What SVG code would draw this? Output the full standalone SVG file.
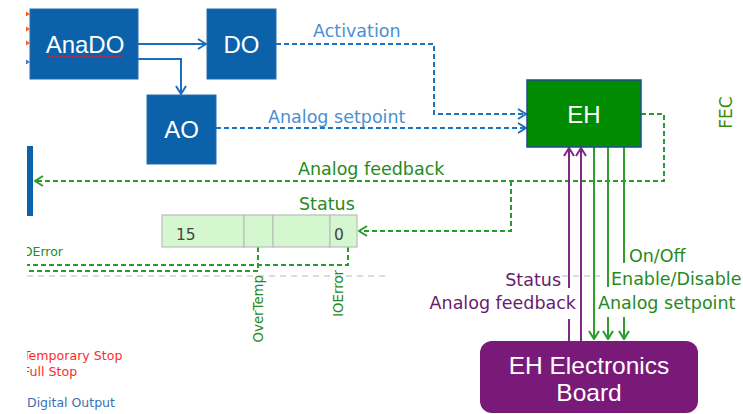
<svg xmlns="http://www.w3.org/2000/svg" width="743" height="414" viewBox="0 0 743 414">
<style>
.box{fill:#0B62AB;stroke:#2A6BA8;stroke-width:1}
.bt{font-family:"Liberation Sans",Arial,sans-serif;font-size:24px;fill:#fff;text-anchor:middle}
.lbl{font-family:"DejaVu Sans",sans-serif;font-size:17.5px}
.blueL{fill:#4A90D2}
.greenL{fill:#268A1E}
.purpL{fill:#6A1B6E}
.dashB{fill:none;stroke:#1D73C4;stroke-width:2;stroke-dasharray:5 3}
.dashG{fill:none;stroke:#2A9A2A;stroke-width:2;stroke-dasharray:5 3}
.solB{fill:none;stroke:#1B6DBE;stroke-width:2}
.solG{fill:none;stroke:#2E9E2E;stroke-width:2}
.solP{fill:none;stroke:#7D2B82;stroke-width:2}
.cell{fill:#D4F7CF;stroke:#BDBDBD;stroke-width:1.2}
.small{font-family:"DejaVu Sans",sans-serif;font-size:12.5px}
.rot{font-family:"DejaVu Sans",sans-serif;font-size:13.3px;fill:#268A1E;text-anchor:end}
</style>
<defs>
<marker id="ab" viewBox="0 0 10 12" refX="9" refY="6" markerWidth="10" markerHeight="12" markerUnits="userSpaceOnUse" orient="auto"><path d="M1,1 L9,6 L1,11" fill="none" stroke="#1B6DBE" stroke-width="2"/></marker>
<marker id="ag" viewBox="0 0 10 12" refX="9" refY="6" markerWidth="10" markerHeight="12" markerUnits="userSpaceOnUse" orient="auto"><path d="M1,1 L9,6 L1,11" fill="none" stroke="#2A9A2A" stroke-width="2"/></marker>
<marker id="ap" viewBox="0 0 10 12" refX="9" refY="6" markerWidth="10" markerHeight="12" markerUnits="userSpaceOnUse" orient="auto"><path d="M1,1 L9,6 L1,11" fill="none" stroke="#7D2B82" stroke-width="2"/></marker>
<clipPath id="clipL"><rect x="27" y="0" width="716" height="414"/></clipPath>
</defs>

<g id="connectors">
<path class="solB" d="M138,44 H206" marker-end="url(#ab)"/>
<path class="solB" d="M138,59 H181 V94" marker-end="url(#ab)"/>
<path class="dashB" d="M276,44 H434 V114 H526" marker-end="url(#ab)"/>
<path class="dashB" d="M216,128 H526" marker-end="url(#ab)"/>
<path class="dashG" d="M641,114 H664 V181 H35" marker-end="url(#ag)"/>
<path class="dashG" d="M511,181 V231 H359" marker-end="url(#ag)"/>
<path class="dashG" d="M258,247 V271 H27"/>
<path class="dashG" d="M348,247 V265 H27"/>
<path d="M27,276 H388 M562,276 H600" fill="none" stroke="#DCDCDC" stroke-width="2" stroke-dasharray="6 5"/>
<path class="solP" d="M569,288 V148" marker-end="url(#ap)"/>
<path class="solP" d="M569,319 V341"/>
<path class="solP" d="M581,341 V148" marker-end="url(#ap)"/>
<path class="solG" d="M594,147 V339" marker-end="url(#ag)"/>
<path class="solG" d="M608,147 V287"/>
<path class="solG" d="M608,317 V339" marker-end="url(#ag)"/>
<path class="solG" d="M624,147 V263"/>
<path class="solG" d="M624,317 V339" marker-end="url(#ag)"/>
<polygon points="26,11.5 30,14 26,16.5" fill="#FF5A1F"/>
<polygon points="26,26.5 30,29 26,31.5" fill="#FF5A1F"/>
<polygon points="26,40.5 30,43 26,45.5" fill="#FF5A1F"/>
<polygon points="26,59.5 30,62 26,64.5" fill="#3A7FC8"/>
</g>

<g id="AnaDO">
<rect class="box" x="30" y="9" width="108" height="70"/>
<text class="bt" x="85" y="53">AnaDO</text>
<path d="M47,57.5 l2,-1.5 2,1.5 2,-1.5 2,1.5 2,-1.5 2,1.5 2,-1.5 2,1.5 2,-1.5 2,1.5 2,-1.5 2,1.5 2,-1.5 2,1.5 2,-1.5 2,1.5 2,-1.5 2,1.5 2,-1.5 2,1.5 2,-1.5 2,1.5 2,-1.5 2,1.5 2,-1.5 2,1.5 2,-1.5 2,1.5 2,-1.5 2,1.5 2,-1.5 2,1.5 2,-1.5 2,1.5 2,-1.5 2,1.5 2,-1.5 2,1.5" fill="none" stroke="#E02020" stroke-width="1"/>
</g>
<g id="DO">
<rect class="box" x="207" y="9" width="69" height="70"/>
<text class="bt" x="241.5" y="53">DO</text>
</g>
<g id="AO">
<rect class="box" x="147" y="95" width="69" height="69"/>
<text class="bt" x="181.5" y="138">AO</text>
</g>
<g id="EH">
<rect x="527" y="80" width="114" height="67" fill="#008B00" stroke="#1E4E8A" stroke-width="1.5"/>
<text class="bt" x="584" y="123">EH</text>
</g>
<g id="left-bar">
<rect x="27" y="146" width="6" height="70" fill="#0B62AB"/>
</g>
<g id="board">
<rect x="480" y="341" width="218" height="72" rx="12" fill="#7A1A78"/>
<text class="bt" x="589" y="374" style="font-size:24.5px">EH Electronics</text>
<text class="bt" x="589" y="401" style="font-size:24.5px">Board</text>
</g>
<g id="status-register">
<rect class="cell" x="162" y="215" width="82" height="32"/>
<rect class="cell" x="244" y="215" width="29" height="32"/>
<rect class="cell" x="273" y="215" width="57" height="32"/>
<rect class="cell" x="330" y="215" width="27" height="32"/>
<text x="176" y="240" font-family="DejaVu Sans, sans-serif" font-size="15.5" fill="#444">15</text>
<text x="334" y="240" font-family="DejaVu Sans, sans-serif" font-size="15.5" fill="#444">0</text>
</g>

<g id="labels">
<text class="lbl blueL" x="313" y="37">Activation</text>
<text class="lbl blueL" x="268" y="123">Analog setpoint</text>
<text class="lbl greenL" x="298" y="175">Analog feedback</text>
<text class="lbl greenL" x="299" y="210">Status</text>
<text class="lbl greenL" x="629" y="262">On/Off</text>
<text class="lbl greenL" x="611" y="285">Enable/Disable</text>
<text class="lbl greenL" x="598" y="309">Analog setpoint</text>
<text class="lbl purpL" x="561" y="286" text-anchor="end">Status</text>
<text class="lbl purpL" x="576" y="309" text-anchor="end">Analog feedback</text>
<text class="rot" transform="translate(263,275) rotate(-90)">OverTemp</text>
<text class="rot" transform="translate(343,270) rotate(-90)">IOError</text>
<text transform="translate(732,112.5) rotate(-90)" font-family="DejaVu Sans, sans-serif" font-size="17" fill="#3B8A0A" text-anchor="middle">FEC</text>
<g clip-path="url(#clipL)">
<text class="small greenL" x="19" y="256">IOError</text>
<text x="23" y="360" font-family="DejaVu Sans, sans-serif" font-size="12.6" fill="#FF2A2A">Temporary Stop</text>
<text x="23" y="376" font-family="DejaVu Sans, sans-serif" font-size="12.6" fill="#FF2A2A">Full Stop</text>
<text class="small" x="27" y="407" fill="#3A6FB0">Digital Output</text>
</g>
</g>
</svg>
